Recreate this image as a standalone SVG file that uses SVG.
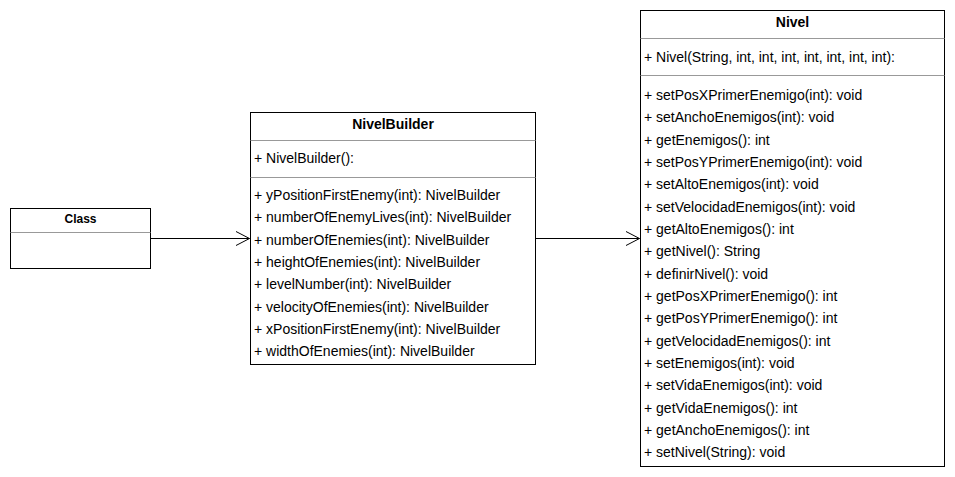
<svg xmlns="http://www.w3.org/2000/svg" width="955" height="477" viewBox="0 0 955 477">
<style>
.box{fill:#fff;stroke:#000;stroke-width:1}
.sep{stroke:#999;stroke-width:1}
.hdr{font-family:"Liberation Sans",Arial,sans-serif;font-weight:bold;font-size:14px;text-anchor:middle;fill:#000}
.hdr12{font-family:"Liberation Sans",Arial,sans-serif;font-weight:bold;font-size:12px;text-anchor:middle;fill:#000}
.m{font-family:"Liberation Sans",Arial,sans-serif;font-size:14px;fill:#000}
.edge{fill:none;stroke:#000;stroke-width:1}
</style>
<rect width="955" height="477" fill="#fff"/>
<g id="connectors">
<path class="edge" d="M150.5 238.5 H249.5"/>
<path class="edge" d="M236 231.5 L249.5 238.5 L236 245.5"/>
<path class="edge" d="M535.5 238.5 H639.5"/>
<path class="edge" d="M626 231.5 L639.5 238.5 L626 245.5"/>
</g>
<g id="class">
<rect class="box" x="10.5" y="208.5" width="140" height="60"/>
<line class="sep" x1="10.5" y1="232.5" x2="150.5" y2="232.5"/>
<text class="hdr12" x="80.5" y="223">Class</text>
</g>
<g id="nivelbuilder">
<rect class="box" x="250.5" y="112.5" width="285" height="252"/>
<line class="sep" x1="250.5" y1="140.5" x2="535.5" y2="140.5"/>
<line class="sep" x1="250.5" y1="177.5" x2="535.5" y2="177.5"/>
<text class="hdr" x="393" y="128.5">NivelBuilder</text>
<text class="m" x="254" y="163">+ NivelBuilder():</text>
<text class="m" x="254" y="200">+ yPositionFirstEnemy(int): NivelBuilder</text>
<text class="m" x="254" y="222.3">+ numberOfEnemyLives(int): NivelBuilder</text>
<text class="m" x="254" y="244.7">+ numberOfEnemies(int): NivelBuilder</text>
<text class="m" x="254" y="267">+ heightOfEnemies(int): NivelBuilder</text>
<text class="m" x="254" y="289.3">+ levelNumber(int): NivelBuilder</text>
<text class="m" x="254" y="311.7">+ velocityOfEnemies(int): NivelBuilder</text>
<text class="m" x="254" y="334">+ xPositionFirstEnemy(int): NivelBuilder</text>
<text class="m" x="254" y="356.3">+ widthOfEnemies(int): NivelBuilder</text>
</g>
<g id="nivel">
<rect class="box" x="640.5" y="10.5" width="304" height="456"/>
<line class="sep" x1="640.5" y1="38.5" x2="944.5" y2="38.5"/>
<line class="sep" x1="640.5" y1="75.5" x2="944.5" y2="75.5"/>
<text class="hdr" x="792.5" y="27">Nivel</text>
<text class="m" x="644" y="62">+ Nivel(String, int, int, int, int, int, int, int):</text>
<text class="m" x="644" y="100">+ setPosXPrimerEnemigo(int): void</text>
<text class="m" x="644" y="122.3">+ setAnchoEnemigos(int): void</text>
<text class="m" x="644" y="144.7">+ getEnemigos(): int</text>
<text class="m" x="644" y="167">+ setPosYPrimerEnemigo(int): void</text>
<text class="m" x="644" y="189.3">+ setAltoEnemigos(int): void</text>
<text class="m" x="644" y="211.7">+ setVelocidadEnemigos(int): void</text>
<text class="m" x="644" y="234">+ getAltoEnemigos(): int</text>
<text class="m" x="644" y="256.3">+ getNivel(): String</text>
<text class="m" x="644" y="278.7">+ definirNivel(): void</text>
<text class="m" x="644" y="301">+ getPosXPrimerEnemigo(): int</text>
<text class="m" x="644" y="323.3">+ getPosYPrimerEnemigo(): int</text>
<text class="m" x="644" y="345.7">+ getVelocidadEnemigos(): int</text>
<text class="m" x="644" y="368">+ setEnemigos(int): void</text>
<text class="m" x="644" y="390.3">+ setVidaEnemigos(int): void</text>
<text class="m" x="644" y="412.7">+ getVidaEnemigos(): int</text>
<text class="m" x="644" y="435">+ getAnchoEnemigos(): int</text>
<text class="m" x="644" y="457.3">+ setNivel(String): void</text>
</g>
</svg>
